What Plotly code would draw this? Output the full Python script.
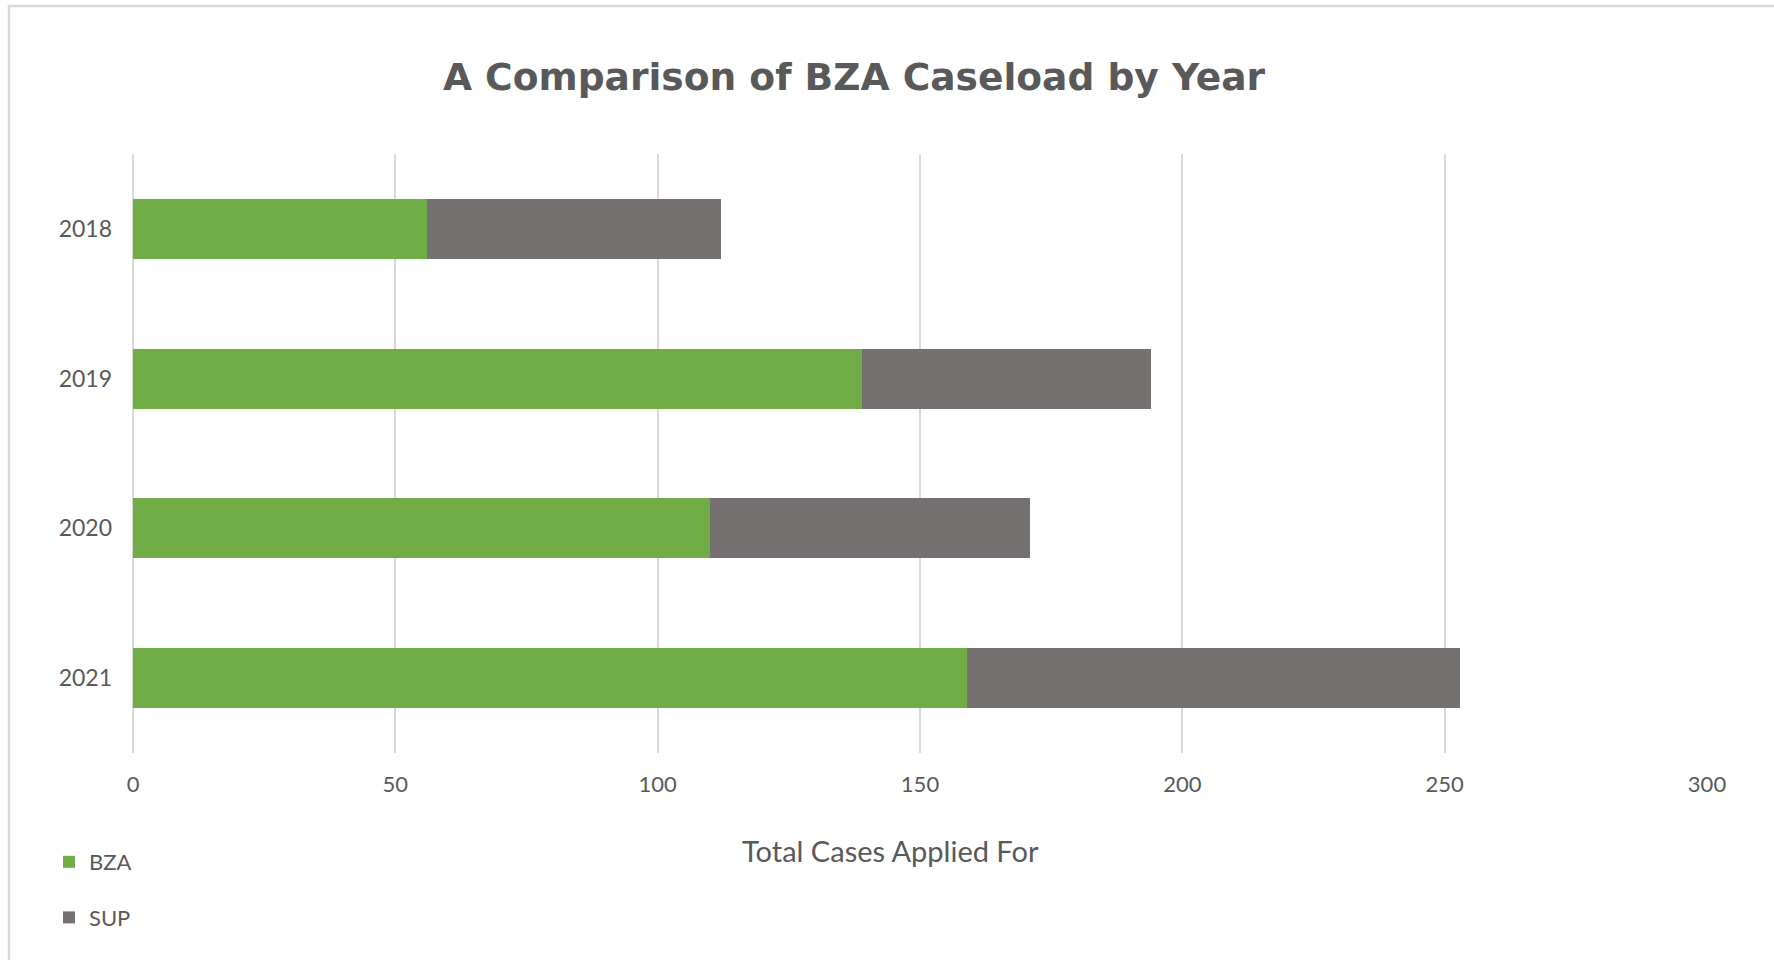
import plotly.graph_objects as go

years = ["2018", "2019", "2020", "2021"]
bza = [56, 139, 110, 159]
sup = [56, 55, 61, 94]

W, H = 1774, 960
L, R, T, B = 133, 67, 154, 207
pw, ph = W - L - R, H - T - B

def px(x):
    return (x - L) / pw

def py(y):
    return (H - B - y) / ph

font = "Lato"
txt = "#595959"

fig = go.Figure()
fig.add_trace(go.Bar(y=years, x=bza, name="BZA", orientation="h",
                     marker=dict(color="#70AD47", line=dict(width=0)),
                     legendgroup="a"))
fig.add_trace(go.Bar(y=years, x=sup, name="SUP", orientation="h",
                     marker=dict(color="#767171", line=dict(width=0)),
                     legendgroup="b"))

fig.update_layout(
    width=W, height=H,
    margin=dict(l=L, r=R, t=T, b=B, autoexpand=False),
    barmode="stack", bargap=0.6,
    plot_bgcolor="white", paper_bgcolor="white",
    font=dict(family=font, color=txt, size=23),
    title=dict(text="<b>A Comparison of BZA Caseload by Year</b>",
               x=854 / W, xanchor="center", y=1 - 77 / H, yanchor="middle",
               font=dict(family="DejaVu Sans", size=37.6, color=txt)),
    xaxis=dict(range=[0, 300], dtick=50, showgrid=True, gridcolor="#d9d9d9",
               gridwidth=1.5, zeroline=True, zerolinecolor="#d9d9d9", zerolinewidth=1.5,
               showline=False, ticks="", ticklen=0, ticklabelstandoff=16,
               tickfont=dict(size=22, color=txt, family=font)),
    yaxis=dict(autorange="reversed", showgrid=False, showline=False, ticks="",
               ticklabelstandoff=20,
               tickfont=dict(size=23, color=txt, family=font)),
    legend=dict(orientation="v", x=px(49), xanchor="left", y=py(841), yanchor="top",
                tracegroupgap=24, font=dict(size=22, color=txt, family=font),
                itemwidth=30, bgcolor="rgba(0,0,0,0)"),
    showlegend=True,
)

fig.add_annotation(text="Total Cases Applied For", xref="paper", yref="paper",
                   x=px(890), y=py(850), xanchor="center", yanchor="middle",
                   showarrow=False, font=dict(size=29, color=txt, family=font))

fig.add_shape(type="rect", xref="paper", yref="paper",
              x0=px(9), x1=px(1800), y0=py(6), y1=py(1000),
              line=dict(color="#d9d9d9", width=2.5), layer="below")

fig.write_html("out.html")
